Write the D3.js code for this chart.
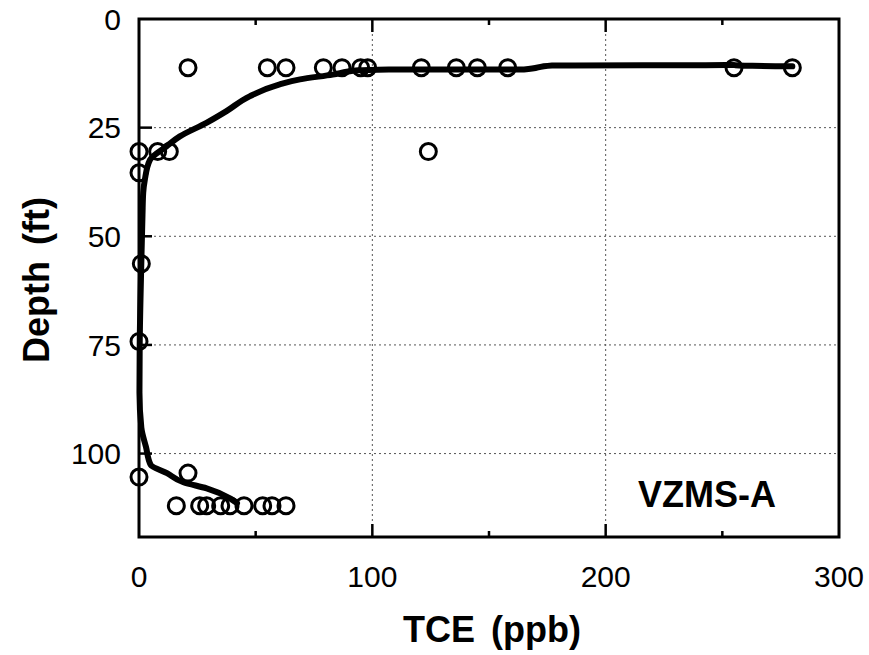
<!DOCTYPE html>
<html>
<head>
<meta charset="utf-8">
<script src="https://cdn.jsdelivr.net/npm/d3@7"></script>
<style>
  body { margin: 0; background: #fff; }
  text { font-family: "Liberation Sans", Arial, sans-serif; fill: #000; }
</style>
</head>
<body>
<div id="chart"></div>
<script>
// measured samples: TCE (ppb) vs depth (ft)
const pointTce = [21, 55, 63, 79, 87, 95, 98, 121, 136, 145, 158, 255, 280,
  0, 8, 13, 124, 0, 1, 0,
  0, 21,
  16, 26, 29, 35, 39, 45, 53, 57, 63];
const pointDepth = [11.2, 11.2, 11.2, 11.2, 11.2, 11.2, 11.2, 11.2, 11.2, 11.2, 11.2, 11.2, 11.2,
  30.5, 30.5, 30.5, 30.5, 35.4, 56.3, 74.2,
  105.4, 104.5,
  112, 112, 112, 112, 112, 112, 112, 112, 112];

// fitted profile
const curveTce = [42, 39, 29, 19, 12, 5, 3, 1, 0.2, 0.3, 1, 1.5, 1.8, 2.5, 4.7, 11.8, 17.5, 28.9, 37.5, 47.4, 60, 69, 83, 94, 107, 165, 177, 255, 280];
const curveDepth = [111.4, 110.3, 108, 106.6, 104.5, 102.6, 98.5, 94, 86, 75, 56, 45, 40, 37, 32.4, 29.3, 27, 23.9, 21.2, 17.8, 15.1, 13.9, 12.8, 11.8, 11.6, 11.6, 10.7, 10.6, 10.9];

const xTicks = [0, 100, 200, 300];
const xMinor = [50, 150, 250];
const yTicks = [0, 25, 50, 75, 100];
const label = "VZMS-A";

const width = 869, height = 655;
const svg = d3.select("#chart").append("svg")
  .attr("width", width).attr("height", height);

const x = d3.scaleLinear().domain([0, 300]).range([139, 839]);
const y = d3.scaleLinear().domain([0, 119.2]).range([19, 537]);

// grid
const grid = svg.append("g")
  .attr("stroke", "#555").attr("stroke-width", 1).attr("stroke-dasharray", "2,3");
grid.selectAll("line.gx").data([100, 200]).join("line")
  .attr("x1", d => x(d)).attr("x2", d => x(d))
  .attr("y1", y.range()[0]).attr("y2", y.range()[1]);
grid.selectAll("line.gy").data([25, 50, 75, 100]).join("line")
  .attr("y1", d => y(d)).attr("y2", d => y(d))
  .attr("x1", x.range()[0]).attr("x2", x.range()[1]);

// ticks (inward)
const ticks = svg.append("g").attr("stroke", "#000").attr("stroke-width", 2.5);
[y.range()[0], y.range()[1]].forEach((yy, i) => {
  const dir = i === 0 ? 1 : -1;
  ticks.selectAll(null).data([100, 200]).join("line")
    .attr("x1", d => x(d)).attr("x2", d => x(d))
    .attr("y1", yy).attr("y2", yy + dir * 13);
  ticks.selectAll(null).data(xMinor).join("line")
    .attr("x1", d => x(d)).attr("x2", d => x(d))
    .attr("y1", yy).attr("y2", yy + dir * 6);
});
ticks.selectAll(null).data([25, 50, 75, 100]).join("line")
  .attr("x1", x.range()[0]).attr("x2", x.range()[0] + 13)
  .attr("y1", d => y(d)).attr("y2", d => y(d));

// frame
svg.append("rect")
  .attr("x", x.range()[0]).attr("y", y.range()[0])
  .attr("width", x.range()[1] - x.range()[0])
  .attr("height", y.range()[1] - y.range()[0])
  .attr("fill", "none").attr("stroke", "#000").attr("stroke-width", 3);

// profile line
const line = d3.line()
  .x((d, i) => x(curveTce[i]))
  .y((d, i) => y(curveDepth[i]))
  .curve(d3.curveMonotoneY);
svg.append("path")
  .attr("d", line(curveTce))
  .attr("fill", "none").attr("stroke", "#000")
  .attr("stroke-width", 6).attr("stroke-linejoin", "round").attr("stroke-linecap", "round");

// points
svg.append("g").selectAll("circle")
  .data(pointTce)
  .join("circle")
  .attr("cx", d => x(d))
  .attr("cy", (d, i) => y(pointDepth[i]))
  .attr("r", 8)
  .attr("fill", "none").attr("stroke", "#000").attr("stroke-width", 3);

// tick labels
svg.append("g").selectAll("text")
  .data(xTicks).join("text")
  .attr("x", d => x(d)).attr("y", 587)
  .attr("text-anchor", "middle").attr("font-size", 30)
  .text(d => d);
svg.append("g").selectAll("text")
  .data(yTicks).join("text")
  .attr("x", 121).attr("y", d => y(d)).attr("dy", "0.36em")
  .attr("text-anchor", "end").attr("font-size", 30)
  .text(d => d);

// titles
svg.append("text")
  .attr("x", 492).attr("y", 642)
  .attr("text-anchor", "middle").attr("font-size", 36).attr("font-weight", "bold")
  .style("word-spacing", "6px")
  .text("TCE (ppb)");
svg.append("text")
  .attr("transform", "translate(49,280) rotate(-90)")
  .attr("text-anchor", "middle").attr("font-size", 36).attr("font-weight", "bold")
  .style("word-spacing", "6px")
  .text("Depth (ft)");
svg.append("text")
  .attr("x", 776).attr("y", 507)
  .attr("text-anchor", "end").attr("font-size", 36).attr("font-weight", "bold")
  .text(label);
</script>
</body>
</html>
